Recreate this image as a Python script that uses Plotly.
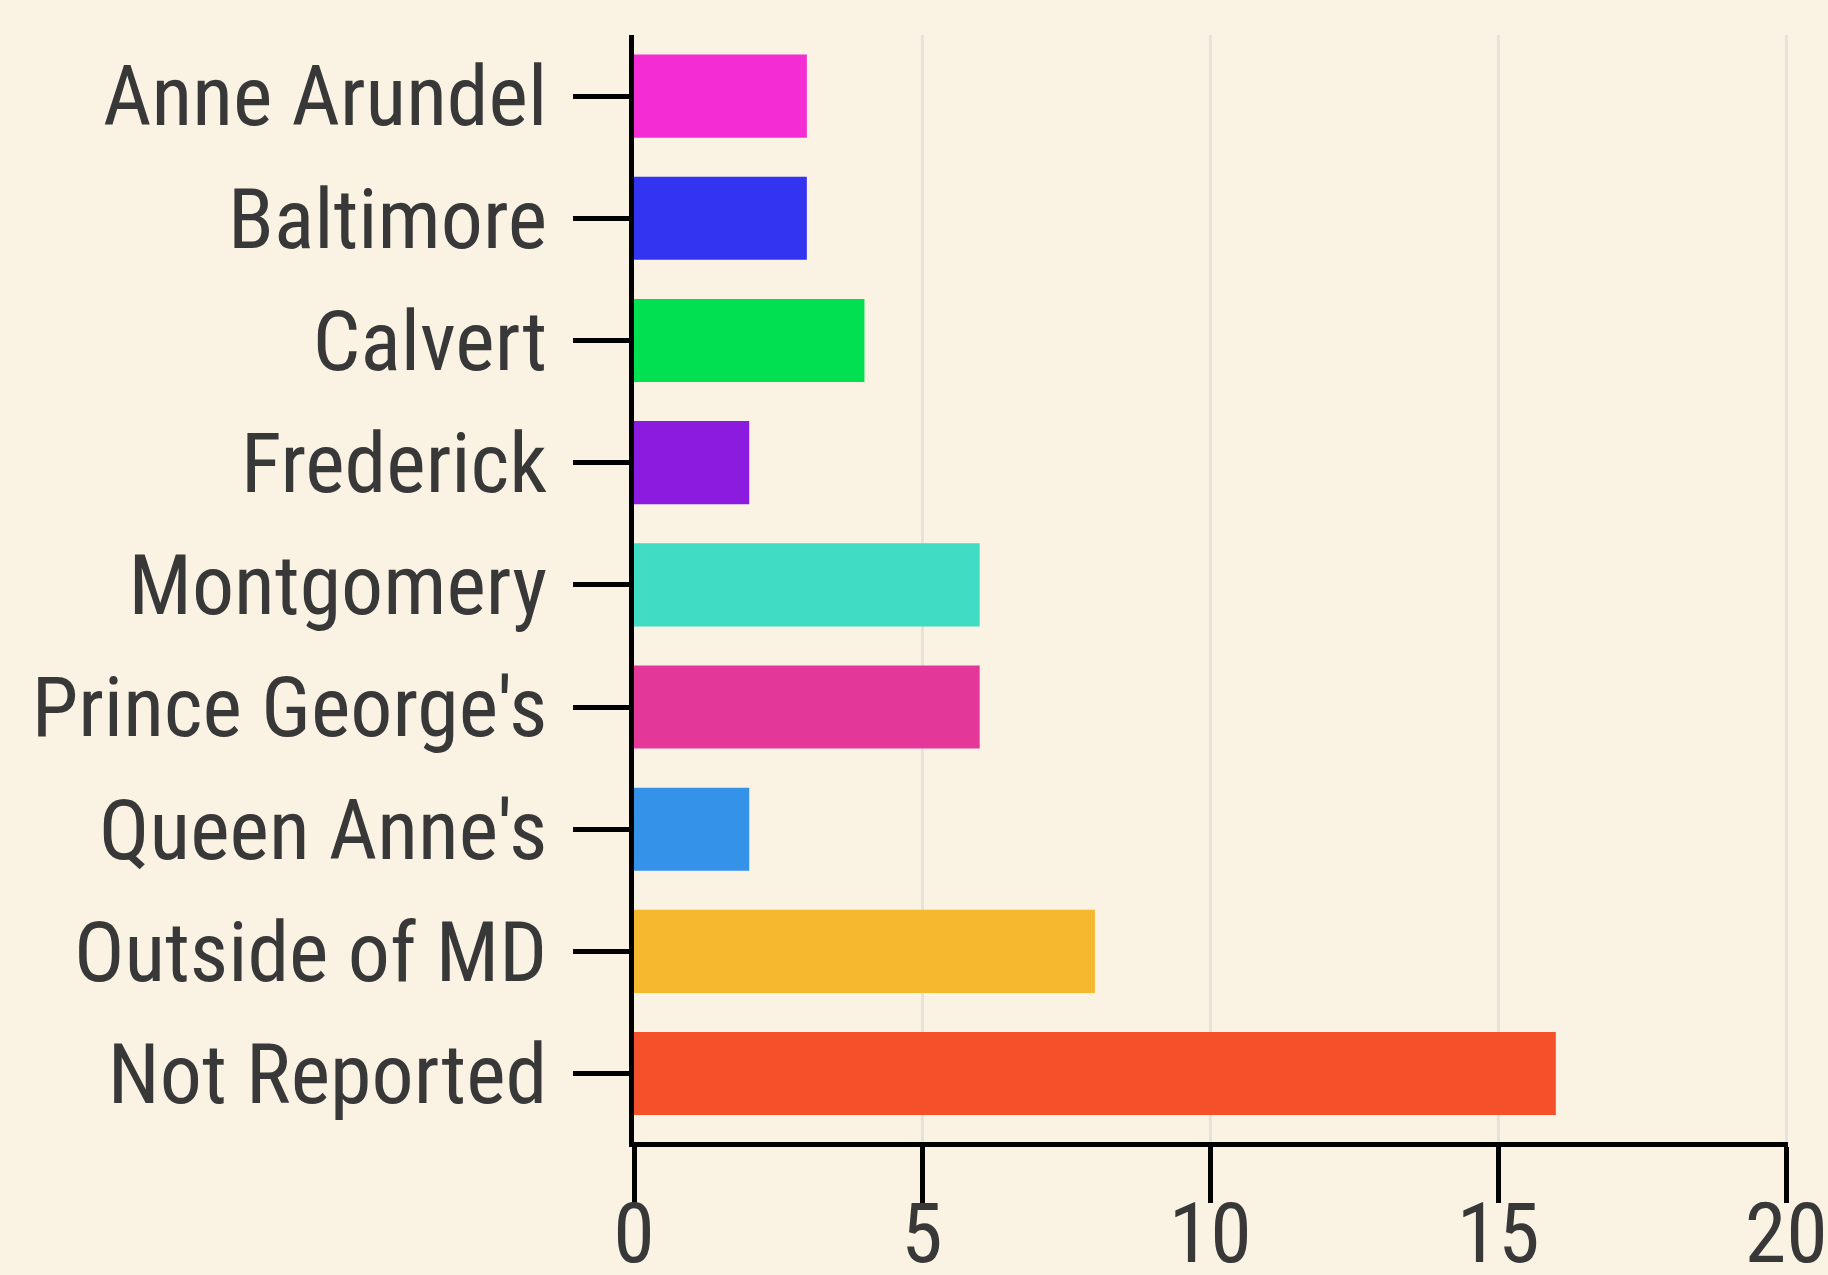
import plotly.graph_objects as go

categories = ["Anne Arundel", "Baltimore", "Calvert", "Frederick", "Montgomery",
              "Prince George's", "Queen Anne's", "Outside of MD", "Not Reported"]
counts = [3, 3, 4, 2, 6, 6, 2, 8, 16]
colors = ["#f42cd3", "#3333f2", "#00e050", "#8b1bdf", "#40dcc4",
          "#e3389a", "#3492e8", "#f5b82e", "#f4502a"]
x_ticks = [0, 5, 10, 15, 20]

fig = go.Figure(go.Bar(
    x=counts, y=categories, orientation="h",
    marker=dict(color=colors, line=dict(width=0)),
))

fig.update_layout(
    width=1828, height=1275,
    paper_bgcolor="#faf2e3", plot_bgcolor="#faf2e3",
    margin=dict(l=634, r=40, t=35, b=133, pad=0),
    bargap=0.32,
    showlegend=False,
    font=dict(family="Roboto Condensed, Liberation Sans Narrow, Roboto, sans-serif",
              size=84, color="#383838"),
)
fig.update_xaxes(
    range=[0, 20.03], tickvals=x_ticks, ticks="outside", ticklen=56, tickwidth=4.5,
    tickcolor="black", showline=True, linewidth=5, linecolor="black",
    showgrid=True, gridcolor="#e6e2dc", gridwidth=3, zeroline=False,
    automargin=False, ticklabeloverflow="allow", ticklabelstandoff=-42,
)
fig.update_yaxes(
    categoryorder="array", categoryarray=categories,
    range=[8.56, -0.5],
    ticks="outside", ticklen=56, tickwidth=4.5, tickcolor="black",
    showline=True, linewidth=5, linecolor="black", showgrid=False,
    ticklabelstandoff=9, automargin=False,
)

fig.write_html("out.html", config={"displayModeBar": False},
               post_script="document.body.style.margin='0';document.body.style.overflow='hidden';")
